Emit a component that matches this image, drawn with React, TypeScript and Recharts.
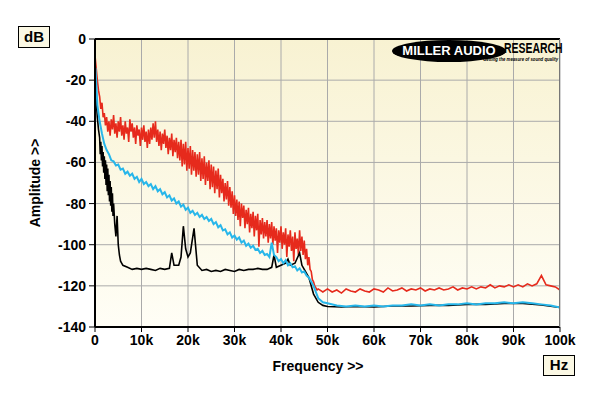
import React from 'react';
import { LineChart, Line, XAxis, YAxis, CartesianGrid } from 'recharts';

// axis ticks (frequency in kHz, amplitude in dB)
const xTicks = [0, 10, 20, 30, 40, 50, 60, 70, 80, 90, 100];
const xTickLabels = ['0', '10k', '20k', '30k', '40k', '50k', '60k', '70k', '80k', '90k', '100k'];
const yTicks = [0, -20, -40, -60, -80, -100, -120, -140];

// red trace, 0..48k every 0.25k (one row = 2k)
const redLowDb = [
  -8, -14, -20, -25, -28, -34, -31, -38,
  -36, -42, -38, -45, -40, -47, -39, -44,
  -37, -46, -41, -48, -40, -45, -38, -47,
  -42, -49, -40, -46, -43, -50, -39, -45,
  -41, -48, -43, -51, -42, -47, -44, -52,
  -43, -49, -42, -50, -45, -53, -44, -51,
  -43, -49, -41, -48, -40, -50, -44, -52,
  -45, -54, -46, -51, -44, -53, -47, -56,
  -48, -54, -46, -57, -49, -55, -48, -58,
  -50, -59, -49, -62, -51, -61, -50, -64,
  -53, -63, -52, -66, -54, -64, -55, -67,
  -56, -66, -55, -69, -58, -68, -57, -71,
  -60, -69, -59, -73, -61, -72, -62, -75,
  -64, -73, -63, -77, -66, -75, -68, -79,
  -70, -78, -69, -81, -72, -82, -74, -85,
  -76, -86, -78, -88, -79, -91, -80, -87,
  -81, -92, -83, -90, -82, -94, -85, -92,
  -84, -96, -86, -93, -85, -101, -88, -95,
  -87, -97, -89, -96, -88, -99, -90, -97,
  -89, -100, -91, -98, -92, -104, -93, -99,
  -91, -102, -94, -100, -92, -106, -95, -101,
  -93, -103, -96, -108, -94, -102, -97, -105,
  -93, -103, -96, -105, -98, -107, -102, -110,
  -106, -112, -113, -117, -118, -120, -121, -122,
  -121.5,
];
// red trace, 49k..100k every 1k
const redHighDb = [
  -123, -121.5, -123, -122, -123.5, -121.5, -122.5, -123, -121.5, -122.5, -123, -121.5, -122, -123, -121, -122.5,
  -122, -121, -122.5, -121.5, -122, -121, -122.5, -121.5, -122, -121, -122, -121.5, -120.5, -122, -121, -121.5,
  -120.5, -121.5, -120.5, -121, -119.5, -121, -120, -120.5, -119.5, -120.5, -119.5, -120.5, -119, -120, -119, -115,
  -119.5, -120, -120.5, -122,
];

// blue trace: start, 3k..47k every 0.5k, then tail
const blueStartFreq = [0.1, 0.5, 1, 1.5, 2, 2.5];
const blueStartDb = [-14, -32, -40, -46, -51, -54];
const blueMidDb = [
  -56, -59, -59.5, -61.5,
  -61, -63.5, -63, -65.5,
  -64.5, -66.5, -65.5, -68,
  -67, -69.5, -68, -70.5,
  -69.5, -71.5, -70.5, -73,
  -71.5, -74, -73, -75.5,
  -74.5, -77, -76, -78.5,
  -77.5, -80, -79, -81.5,
  -80.5, -83, -82, -84.5,
  -83.5, -85.5, -84.5, -86.5,
  -85.5, -87.5, -86.5, -88.5,
  -87.5, -90, -89, -91.5,
  -90.5, -93, -92.5, -95,
  -94, -96.5, -95.5, -97.5,
  -96.5, -99, -98, -100.5,
  -99.5, -101.5, -100.5, -102.5,
  -102, -104, -103, -105,
  -104.5, -106, -99, -105,
  -106, -108, -107, -109,
  -107.5, -110, -109, -111,
  -110.5, -112.5, -111.5, -113.5,
  -113, -115, -116, -118,
  -120,
];
const blueEndFreq = [48, 49, 50, 52, 54, 56, 58, 60, 62, 64, 66, 68, 70, 72, 74, 76, 78, 80, 82, 84, 86, 88, 90, 92, 94, 96, 98, 100];
const blueEndDb = [
  -126, -128, -128.5, -129.5, -130, -129.5, -130, -129.5, -130, -129.5, -129.5, -129, -129.5, -129, -129.5, -129,
  -129, -128.5, -129, -128.5, -128.5, -128, -128.5, -128, -128.5, -129, -129.5, -130.5,
];

const blackFreq = [
  0.2, 0.5, 0.75, 1, 1.125, 1.25, 1.375, 1.5, 1.625, 1.75, 1.875, 2, 2.125, 2.25, 2.375, 2.5, 2.625, 2.75, 2.875, 3,
  3.125, 3.25, 3.375, 3.5, 3.625, 3.75, 3.875, 4, 4.25, 4.5, 4.75, 5, 5.25, 5.5, 6, 7, 8, 9,
  10, 11, 12, 13, 14, 15, 16, 16.5, 17, 18, 18.5, 19, 19.5, 20, 20.5, 21.3, 22, 23, 24, 25, 26, 27, 28, 29, 30, 31,
  32, 33, 34, 35, 36, 37, 38, 38.5, 39, 40, 41, 41.5, 42, 43, 44, 44.5, 45, 46, 47, 48, 49, 50, 53, 56, 60,
  64, 68, 72, 76, 80, 84, 88, 92, 96, 100,
];
const blackDb = [
  -28, -38, -44, -48, -56, -50, -59, -52, -62, -55, -65, -57, -68, -59, -71, -61, -74, -63, -76, -66,
  -79, -69, -81, -72, -84, -75, -86, -80, -90, -96, -86, -100, -105, -108, -110, -111, -112, -111.5,
  -112, -111.5, -112, -112.5, -111.5, -112, -111.5, -104, -110, -110, -106, -91, -102, -106, -104,
  -92, -110, -112.5, -112, -113, -112.5, -113, -112, -112.5, -113, -112, -112.5, -112, -112, -111.5, -112, -112, -111,
  -105, -111, -110, -109, -107, -110, -109, -104, -110, -112, -116, -124, -128, -129.5, -130, -130.3, -130,
  -130.3, -129.8, -129.8, -129.5, -129.5, -129, -129, -128.6, -128.6, -129.3, -130.5,
];

const redData = [
  ...redLowDb.map((v, i) => ({ f: i * 0.25, v })),
  ...redHighDb.map((v, i) => ({ f: 49 + i, v })),
];
const blueData = [
  ...blueStartFreq.map((f, i) => ({ f, v: blueStartDb[i] })),
  ...blueMidDb.map((v, i) => ({ f: 3 + i * 0.5, v })),
  ...blueEndFreq.map((f, i) => ({ f, v: blueEndDb[i] })),
];
const blackData = blackFreq.map((f, i) => ({ f, v: blackDb[i] }));

const font = '"Liberation Sans", Arial, sans-serif';

const boxStyle: React.CSSProperties = {
  position: 'absolute',
  border: '1.5px solid #000',
  background: '#fbf8e4',
  fontFamily: font,
  fontWeight: 700,
  fontSize: 15,
  textAlign: 'center',
  boxSizing: 'border-box',
};

export default function App() {
  return (
    <div style={{ position: 'absolute', left: 0, top: 0, width: 600, height: 396, background: '#fff' }}>
      <LineChart width={600} height={396} margin={{ top: 39, right: 40, left: 0, bottom: 39 }}>
        <defs>
          <linearGradient id="bg" x1="0" y1="0" x2="0" y2="1">
            <stop offset="0%" stopColor="#f8f2d2" />
            <stop offset="100%" stopColor="#fffef6" />
          </linearGradient>
        </defs>
        <CartesianGrid stroke="#aaaaaa" strokeWidth={1} fill="url(#bg)" fillOpacity={1} />
        <XAxis
          type="number"
          dataKey="f"
          domain={[0, 100]}
          ticks={xTicks}
          allowDataOverflow
          height={30}
          tickSize={5}
          tickMargin={3}
          axisLine={{ stroke: '#000', strokeWidth: 2 }}
          tickLine={{ stroke: '#000' }}
          tickFormatter={(v: number) => xTickLabels[xTicks.indexOf(v)]}
          tick={{ fill: '#000', fontSize: 14, fontWeight: 700, fontFamily: font }}
        />
        <YAxis
          type="number"
          dataKey="v"
          domain={[-140, 0]}
          ticks={yTicks}
          allowDataOverflow
          width={95}
          tickSize={6}
          tickMargin={3}
          axisLine={{ stroke: '#000', strokeWidth: 2 }}
          tickLine={{ stroke: '#000' }}
          tick={{ fill: '#000', fontSize: 14, fontWeight: 700, fontFamily: font }}
        />
        <Line data={redData} dataKey="v" stroke="#e62a1c" strokeWidth={1.6} dot={false} isAnimationActive={false} />
        <Line data={blackData} dataKey="v" stroke="#000" strokeWidth={1.6} dot={false} isAnimationActive={false} />
        <Line data={blueData} dataKey="v" stroke="#27b6ea" strokeWidth={2} dot={false} isAnimationActive={false} />
      </LineChart>

      {/* plot frame top / right */}
      <div style={{ position: 'absolute', left: 95, top: 38, width: 465, height: 0, borderTop: '2px solid #000' }} />
      <div style={{ position: 'absolute', left: 559, top: 39, width: 0, height: 288, borderRight: '1px solid #777' }} />

      <div style={{ ...boxStyle, left: 18, top: 26, width: 32, height: 22, lineHeight: '19px' }}>dB</div>
      <div style={{ ...boxStyle, left: 543, top: 355, width: 32, height: 21, lineHeight: '18px' }}>Hz</div>

      <div
        style={{
          position: 'absolute', left: 318, top: 366, transform: 'translate(-50%, -50%)',
          fontFamily: font, fontWeight: 700, fontSize: 14, whiteSpace: 'nowrap',
        }}
      >
        Frequency &gt;&gt;
      </div>
      <div
        style={{
          position: 'absolute', left: 35, top: 183, transform: 'translate(-50%, -50%) rotate(-90deg)',
          fontFamily: font, fontWeight: 700, fontSize: 14, whiteSpace: 'nowrap',
        }}
      >
        Amplitude &gt;&gt;
      </div>

      {/* logo */}
      <div
        style={{
          position: 'absolute', left: 392, top: 40, width: 114, height: 22, borderRadius: '50%',
          background: '#000', color: '#fff', fontFamily: font, fontWeight: 900, fontSize: 13,
          lineHeight: '22px', textAlign: 'center', whiteSpace: 'nowrap',
        }}
      >
        MILLER AUDIO
      </div>
      <div
        style={{
          position: 'absolute', left: 504, top: 41, fontFamily: font, fontWeight: 900, fontSize: 14.5,
          lineHeight: '15px', color: '#000', transform: 'scaleX(0.72)', transformOrigin: 'left top',
          whiteSpace: 'nowrap',
        }}
      >
        RESEARCH
      </div>
      <div
        style={{
          position: 'absolute', left: 483, top: 56, fontFamily: font, fontWeight: 700, fontStyle: 'italic',
          fontSize: 5, lineHeight: '6px', color: '#000', whiteSpace: 'nowrap',
          transform: 'scaleX(0.85)', transformOrigin: 'left top',
        }}
      >
        Getting the measure of sound quality
      </div>
    </div>
  );
}
